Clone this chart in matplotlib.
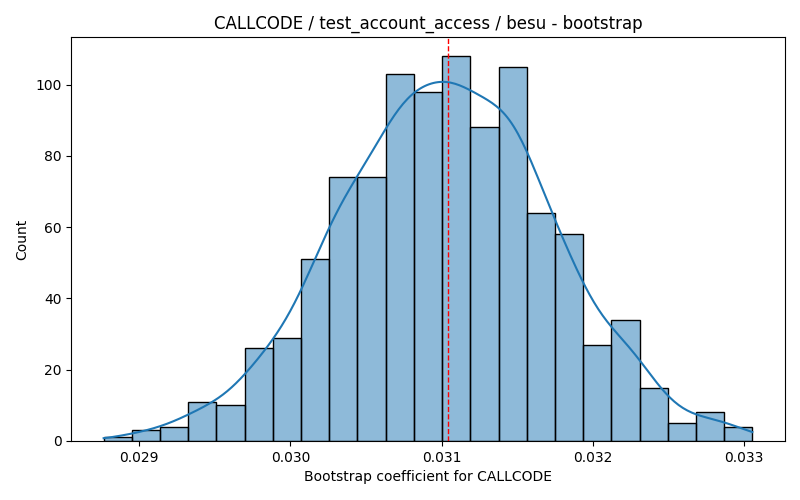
import numpy as np
import seaborn as sns
import matplotlib
matplotlib.use("Agg")
from matplotlib import pyplot as plt

# histogram (1000 bootstrap samples, 23 bins)
bin_lo = 0.028764
bin_hi = 0.033055
counts = [1, 3, 4, 11, 10, 26, 29, 51, 74, 74, 103, 98, 108, 88, 105, 64, 58, 27, 34, 15, 5, 8, 4]
mean_value = 0.03104

title = "CALLCODE / test_account_access / besu - bootstrap"
xlabel = "Bootstrap coefficient for CALLCODE"

edges = np.linspace(bin_lo, bin_hi, len(counts) + 1)
centers = (edges[:-1] + edges[1:]) / 2
width = edges[1] - edges[0]
sample = np.repeat(centers, counts)

fig, ax = plt.subplots(figsize=(8, 5), dpi=100)
sns.histplot(x=sample, bins=list(edges), edgecolor="black", alpha=0.5, ax=ax)

# gaussian kde (scott's rule) scaled to counts
n = len(sample)
bw = sample.std(ddof=1) * n ** (-1 / 5)
grid = np.linspace(bin_lo, bin_hi, 300)
dens = np.exp(-0.5 * ((grid[:, None] - sample[None, :]) / bw) ** 2).sum(axis=1)
dens = dens / (n * bw * np.sqrt(2 * np.pi))
ax.plot(grid, dens * n * width, color="C0", linewidth=1.5)

ax.axvline(mean_value, color="red", linestyle="--", linewidth=1)

ax.set_title(title)
ax.set_xlabel(xlabel)
ax.set_ylabel("Count")

fig.subplots_adjust(left=0.089, right=0.981, top=0.926, bottom=0.118)
fig.savefig("out.png")
